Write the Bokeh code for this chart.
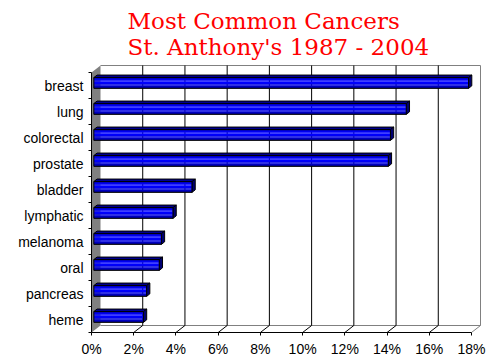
from bokeh.plotting import figure
from bokeh.models import Title, FixedTicker, Range1d
from bokeh.embed import file_html
from bokeh.resources import INLINE

# ---- data ----
categories = ["breast", "lung", "colorectal", "prostate", "bladder",
              "lymphatic", "melanoma", "oral", "pancreas", "heme"]
percent = [17.75, 14.8, 14.05, 13.95, 4.65, 3.75, 3.2, 3.1, 2.5, 2.35]
x_ticks = [0, 2, 4, 6, 8, 10, 12, 14, 16, 18]
x_tick_labels = ["0%", "2%", "4%", "6%", "8%", "10%", "12%", "14%", "16%", "18%"]
title_lines = ["Most Common Cancers", "St. Anthony's 1987 - 2004"]

# ---- geometry / style ----
FW, FH = 390, 268
X_MAX = 18
N = len(categories)
PXX = 380 / X_MAX          # pixels per percent
PXY = 26                   # pixels per category band
DX = 9 / PXX               # full depth offset (x units)
DY = 7 / PXY               # full depth offset (y units)
F1, F2 = 0.26, 0.62        # bar depth front/back fraction
LO, HI = 0.32, 0.735       # bar extent within band
GRAY = "#808080"

p = figure(frame_width=FW, frame_height=FH, output_backend="svg",
           toolbar_location=None, title=None,
           x_range=Range1d(0, FW / PXX), y_range=Range1d(0, FH / PXY),
           min_border_left=91, min_border_right=8, min_border_top=64,
           min_border_bottom=0, background_fill_color="white",
           border_fill_color="white")
p.outline_line_color = None
p.xgrid.visible = False
p.ygrid.visible = False

# left side wall
p.patch([0, DX, DX, 0], [0, DY, N + DY, N], fill_color=GRAY, line_color=None)
# back wall borders and floor edges
p.line([DX, X_MAX + DX, X_MAX + DX], [N + DY, N + DY, DY], line_color=GRAY, line_width=1)
p.line([DX, X_MAX + DX], [DY, DY], line_color=GRAY, line_width=1)
p.line([X_MAX, X_MAX + DX], [0, DY], line_color=GRAY, line_width=1)

# gridlines on the back wall and floor
gx = [t for t in x_ticks if 0 < t < X_MAX]
p.segment(x0=[t + DX for t in gx], y0=[DY] * len(gx), x1=[t + DX for t in gx],
          y1=[N + DY] * len(gx), line_color="black", line_width=1)
p.segment(x0=gx, y0=[0] * len(gx), x1=[t + DX for t in gx], y1=[DY] * len(gx),
          line_color="black", line_width=1)

# bars
grad = ["#0000A0", "#0000C0", "#0000DD", "#0000F5", "#0000FF", "#0000FF", "#0000F0", "#0000D0"]
strip_xs, strip_ys, strip_cols = [], [], []
front_xs, front_ys, top_xs, top_ys, end_xs, end_ys = [], [], [], [], [], []
for i, (cat, v) in enumerate(zip(categories, percent)):
    k = N - 1 - i
    x0, x1 = F1 * DX, v + F1 * DX
    y0, y1 = k + LO + F1 * DY, k + HI + F1 * DY
    ns = len(grad)
    for s in range(ns):
        a = y0 + (y1 - y0) * s / ns
        b = y0 + (y1 - y0) * (s + 1) / ns
        strip_xs.append([x0, x1, x1, x0])
        strip_ys.append([a, a, b, b])
        strip_cols.append(grad[s])
    front_xs.append([x0, x1, x1, x0])
    front_ys.append([y0, y0, y1, y1])
    ddx, ddy = (F2 - F1) * DX, (F2 - F1) * DY
    top_xs.append([x0, x1, x1 + ddx, x0 + ddx])
    top_ys.append([y1, y1, y1 + ddy, y1 + ddy])
    end_xs.append([x1, x1 + ddx, x1 + ddx, x1])
    end_ys.append([y0, y0 + ddy, y1 + ddy, y1])

p.patches(top_xs, top_ys, fill_color="#000090", line_color="black", line_width=1)
p.patches(end_xs, end_ys, fill_color="#000070", line_color="black", line_width=1)
p.patches(strip_xs, strip_ys, fill_color=strip_cols, line_color=None)
p.patches(front_xs, front_ys, fill_color=None, line_color="black", line_width=1)

# axes
p.xaxis.ticker = FixedTicker(ticks=x_ticks, minor_ticks=[])
p.xaxis.major_label_overrides = {t: lab for t, lab in zip(x_ticks, x_tick_labels)}
p.xaxis.bounds = (0, X_MAX)
p.xaxis.major_tick_in = 0
p.xaxis.major_tick_out = 3
p.xaxis.major_label_standoff = 5

centers = [N - 1 - i + 0.5 for i in range(N)]
p.yaxis.ticker = FixedTicker(ticks=centers, minor_ticks=list(range(N + 1)))
p.yaxis.major_label_overrides = {c: cat for c, cat in zip(centers, categories)}
p.yaxis.bounds = (0, N)
p.yaxis.major_tick_line_color = None
p.yaxis.major_tick_in = 0
p.yaxis.major_tick_out = 3
p.yaxis.minor_tick_in = 0
p.yaxis.minor_tick_out = 3
p.yaxis.major_label_standoff = 5

for ax in (p.xaxis[0], p.yaxis[0]):
    ax.axis_line_color = "black"
    ax.major_label_text_font = "Liberation Sans"
    ax.major_label_text_font_size = "14px"
    ax.major_label_text_color = "black"

# two-line title
p.add_layout(Title(text="\n".join(title_lines), align="left", offset=36, standoff=10,
                   text_font="DejaVu Serif", text_font_size="23px",
                   text_line_height=1.0,
                   text_font_style="normal", text_color="#FF0000"), "above")

open("out.html", "w").write(file_html(p, INLINE))
